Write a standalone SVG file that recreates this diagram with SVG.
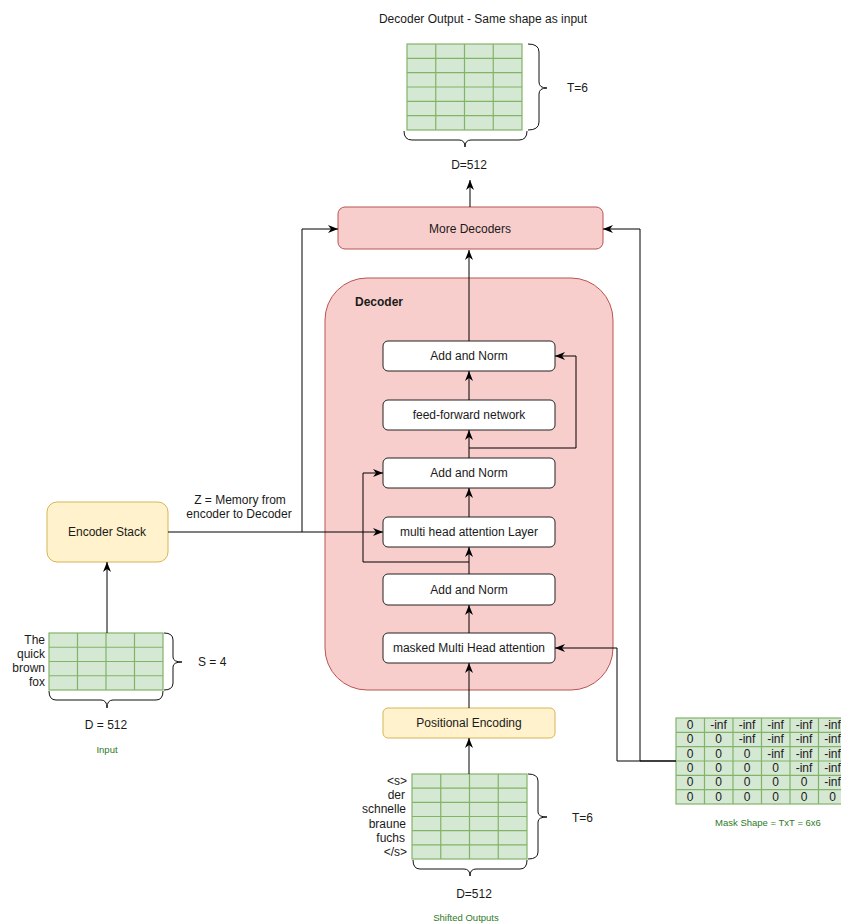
<svg xmlns="http://www.w3.org/2000/svg" width="841" height="923" viewBox="0 0 841 923">
<defs>
<marker id="arr" viewBox="0 0 10 8" refX="10" refY="4" markerWidth="10" markerHeight="8" markerUnits="userSpaceOnUse" orient="auto">
<path d="M0,0 L10,4 L0,8 L3,4 z" fill="#000"/>
</marker>
<style>
text{font-family:"Liberation Sans",Arial,sans-serif;font-size:12px;fill:#1a1a1a}
.c{text-anchor:middle}
.r{text-anchor:end}
.g{fill:#2d7a1f;font-size:9.5px}
.b{font-weight:bold}
.box{fill:#fff;stroke:#222;stroke-width:1}
.red{fill:#f8cecc;stroke:#b85450;stroke-width:1}
.yel{fill:#fff2cc;stroke:#d6b656;stroke-width:1}
.cell{fill:#d5e8d4;stroke:#82b366;stroke-width:1.2}
.grid{fill:none;stroke:#82b366;stroke-width:1.2}
.brace{fill:none;stroke:#111;stroke-width:1}
.con{fill:none;stroke:#000;stroke-width:1}
.arw{marker-end:url(#arr)}
</style>
</defs>
<rect width="841" height="923" fill="#fff"/>

<g id="output">
<text class="c" x="483" y="23">Decoder Output - Same shape as input</text>
<rect class="cell" x="407" y="44" width="115" height="86"/>
<path class="grid" d="M435.75,44V130M464.5,44V130M493.25,44V130M407,58.33H522M407,72.67H522M407,87H522M407,101.33H522M407,115.67H522"/>
<path class="brace" d="M528,44 Q539,44 539,52 L539,82 Q539,88 547,88 Q539,88 539,94 L539,122 Q539,130 528,130"/>
<path class="brace" d="M404,131 Q404,140 412,140 L459,140 Q465,140 465,147 Q465,140 471,140 L519,140 Q527,140 527,131"/>
<text x="567" y="92">T=6</text>
<text class="c" x="469" y="169">D=512</text>
</g>

<g id="more-decoders">
<rect class="red" x="338" y="207" width="265" height="42" rx="7"/>
<text class="c" x="470" y="233">More Decoders</text>
</g>

<g id="decoder">
<rect class="red" x="325" y="278" width="288" height="412" rx="42"/>
<text class="b" x="355" y="306">Decoder</text>
</g>

<g id="add-norm-3">
<rect class="box" x="383" y="341" width="172" height="30" rx="5"/>
<text class="c" x="469" y="360">Add and Norm</text>
</g>
<g id="ffn">
<rect class="box" x="383" y="400" width="172" height="30" rx="5"/>
<text class="c" x="469" y="419">feed-forward network</text>
</g>
<g id="add-norm-2">
<rect class="box" x="383" y="458" width="172" height="30" rx="5"/>
<text class="c" x="469" y="477">Add and Norm</text>
</g>
<g id="mha">
<rect class="box" x="383" y="517" width="172" height="30" rx="5"/>
<text class="c" x="469" y="536">multi head attention Layer</text>
</g>
<g id="add-norm-1">
<rect class="box" x="383" y="574" width="172" height="31" rx="5"/>
<text class="c" x="469" y="594">Add and Norm</text>
</g>
<g id="masked-mha">
<rect class="box" x="383" y="633" width="172" height="30" rx="5"/>
<text class="c" x="469" y="652">masked Multi Head attention</text>
</g>

<g id="positional-encoding">
<rect class="yel" x="383" y="708" width="172" height="30" rx="5"/>
<text class="c" x="469" y="727">Positional Encoding</text>
</g>

<g id="encoder-stack">
<rect class="yel" x="47" y="502" width="121" height="60" rx="10"/>
<text class="c" x="107" y="536">Encoder Stack</text>
</g>

<g id="input">
<rect class="cell" x="49" y="633" width="114" height="57"/>
<path class="grid" d="M77.5,633V690M106,633V690M134.5,633V690M49,647.25H163M49,661.5H163M49,675.75H163"/>
<text class="r" x="45" y="644">The</text>
<text class="r" x="45" y="658">quick</text>
<text class="r" x="45" y="672">brown</text>
<text class="r" x="45" y="686">fox</text>
<path class="brace" d="M164,633 Q173,633 173,640 L173,657 Q173,662 182,662 Q173,662 173,667 L173,683 Q173,690 164,690"/>
<path class="brace" d="M49,691 Q49,700 56,700 L101,700 Q107,700 107,708 Q107,700 113,700 L156,700 Q163,700 163,691"/>
<text x="198" y="666">S = 4</text>
<text class="c" x="106" y="729">D = 512</text>
<text class="c g" x="107" y="753">Input</text>
</g>

<g id="z-label">
<text class="c" x="240" y="504">Z = Memory from</text>
<text class="c" x="239" y="518">encoder to Decoder</text>
</g>

<g id="shifted-outputs">
<rect class="cell" x="412" y="774" width="115" height="85"/>
<path class="grid" d="M440.75,774V859M469.5,774V859M498.25,774V859M412,788.17H527M412,802.33H527M412,816.5H527M412,830.67H527M412,844.83H527"/>
<text class="r" x="407" y="785">&lt;s&gt;</text>
<text class="r" x="405" y="799">der</text>
<text class="r" x="406" y="813">schnelle</text>
<text class="r" x="406" y="827.5">braune</text>
<text class="r" x="405" y="841.5">fuchs</text>
<text class="r" x="407" y="856">&lt;/s&gt;</text>
<path class="brace" d="M528,774 Q538,774 538,781 L538,812 Q538,817 547,817 Q538,817 538,822 L538,852 Q538,859 528,859"/>
<path class="brace" d="M413,860 Q413,869 420,869 L464,869 Q470,869 470,876 Q470,869 476,869 L520,869 Q527,869 527,860"/>
<text x="572" y="822">T=6</text>
<text class="c" x="474" y="898">D=512</text>
<text class="c g" x="466" y="921">Shifted Outputs</text>
</g>

<g id="mask">
<rect class="cell" x="676" y="718" width="171" height="86"/>
<path class="grid" d="M704.5,718V804M733,718V804M761.5,718V804M790,718V804M818.5,718V804M676,732.33H847M676,746.67H847M676,761H847M676,775.33H847M676,789.67H847"/>
<g class="c">
<text x="690" y="729">0</text><text x="718.5" y="729">-inf</text><text x="747" y="729">-inf</text><text x="775.5" y="729">-inf</text><text x="804" y="729">-inf</text><text x="832.5" y="729">-inf</text>
<text x="690" y="743.3">0</text><text x="718.5" y="743.3">0</text><text x="747" y="743.3">-inf</text><text x="775.5" y="743.3">-inf</text><text x="804" y="743.3">-inf</text><text x="832.5" y="743.3">-inf</text>
<text x="690" y="757.7">0</text><text x="718.5" y="757.7">0</text><text x="747" y="757.7">0</text><text x="775.5" y="757.7">-inf</text><text x="804" y="757.7">-inf</text><text x="832.5" y="757.7">-inf</text>
<text x="690" y="772">0</text><text x="718.5" y="772">0</text><text x="747" y="772">0</text><text x="775.5" y="772">0</text><text x="804" y="772">-inf</text><text x="832.5" y="772">-inf</text>
<text x="690" y="786.3">0</text><text x="718.5" y="786.3">0</text><text x="747" y="786.3">0</text><text x="775.5" y="786.3">0</text><text x="804" y="786.3">0</text><text x="832.5" y="786.3">-inf</text>
<text x="690" y="800.7">0</text><text x="718.5" y="800.7">0</text><text x="747" y="800.7">0</text><text x="775.5" y="800.7">0</text><text x="804" y="800.7">0</text><text x="832.5" y="800.7">0</text>
</g>
<text class="c g" x="768" y="826">Mask Shape = TxT = 6x6</text>
</g>

<g id="connectors">
<path class="con arw" d="M470,207V180"/>
<path class="con arw" d="M469,341V250"/>
<path class="con arw" d="M469,400V371"/>
<path class="con arw" d="M469,458V430"/>
<path class="con arw" d="M469,448H576V356H555"/>
<path class="con arw" d="M469,517V488"/>
<path class="con arw" d="M469,574V547"/>
<path class="con arw" d="M469,562H363V473H383"/>
<path class="con arw" d="M469,633V605"/>
<path class="con arw" d="M469,708V663"/>
<path class="con arw" d="M469,774V738"/>
<path class="con arw" d="M107,633V562"/>
<path class="con arw" d="M168,532H383"/>
<path class="con arw" d="M302,532V229H338"/>
<path class="con arw" d="M676,761H617V648H555"/>
<path class="con arw" d="M676,761H640V229H603"/>
</g>
</svg>
